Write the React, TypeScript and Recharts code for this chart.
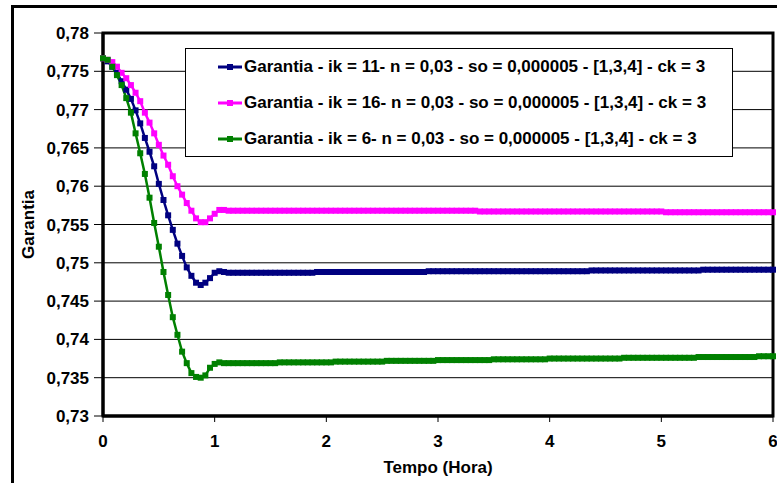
import React from 'react';
import { LineChart, Line, XAxis, YAxis, CartesianGrid, Legend, ReferenceArea } from 'recharts';

// Garantia per series, one sample every 2.5 min (1/24 h) from 0 to 6 h
const garantiaIk11 = [
  0.7767, 0.7763, 0.7756, 0.7748, 0.7737, 0.7726, 0.7714, 0.7699, 0.7682, 0.7663,
  0.7645, 0.7626, 0.7603, 0.7582, 0.7562, 0.7543, 0.7525, 0.7509, 0.7494, 0.7483,
  0.7474, 0.7471, 0.7474, 0.7480, 0.7487, 0.7489,
  0.7488,
  0.7487, 0.7487, 0.7487, 0.7487, 0.7487, 0.7487, 0.7487, 0.7487, 0.7487, 0.7487,
  0.7487, 0.7487, 0.7487, 0.7487, 0.7487, 0.7487, 0.7487, 0.7487, 0.7487,
  0.7488, 0.7488, 0.7488, 0.7488, 0.7488, 0.7488, 0.7488, 0.7488, 0.7488, 0.7488, 0.7488, 0.7488,
  0.7488, 0.7488, 0.7488, 0.7488, 0.7488, 0.7488, 0.7488, 0.7488, 0.7488, 0.7488, 0.7488, 0.7488,
  0.7489, 0.7489, 0.7489, 0.7489, 0.7489, 0.7489, 0.7489, 0.7489, 0.7489, 0.7489, 0.7489, 0.7489,
  0.7489, 0.7489, 0.7489, 0.7489, 0.7489, 0.7489, 0.7489, 0.7489, 0.7489, 0.7489, 0.7489, 0.7489,
  0.7489, 0.7489, 0.7489, 0.7489, 0.7489, 0.7489, 0.7489, 0.7489, 0.7489, 0.7489, 0.7489,
  0.7490, 0.7490, 0.7490, 0.7490, 0.7490, 0.7490, 0.7490, 0.7490, 0.7490, 0.7490, 0.7490, 0.7490,
  0.7490, 0.7490, 0.7490, 0.7490, 0.7490, 0.7490, 0.7490, 0.7490, 0.7490, 0.7490, 0.7490, 0.7490,
  0.7491, 0.7491, 0.7491, 0.7491, 0.7491, 0.7491, 0.7491, 0.7491,
  0.7491, 0.7491, 0.7491, 0.7491, 0.7491, 0.7491, 0.7491, 0.7491,
];

const garantiaIk16 = [
  0.7767, 0.7765, 0.7762, 0.7756, 0.7748, 0.7741, 0.7732, 0.7722, 0.7711, 0.7696,
  0.7683, 0.7669, 0.7654, 0.7640, 0.7628, 0.7613, 0.7600, 0.7589, 0.7578, 0.7568,
  0.7558, 0.7553, 0.7553, 0.7558, 0.7564, 0.7569,
  0.7569,
  0.7568, 0.7568, 0.7568, 0.7568, 0.7568, 0.7568, 0.7568, 0.7568, 0.7568, 0.7568, 0.7568, 0.7568,
  0.7568, 0.7568, 0.7568, 0.7568, 0.7568, 0.7568, 0.7568, 0.7568, 0.7568, 0.7568, 0.7568, 0.7568,
  0.7568, 0.7568, 0.7568, 0.7568, 0.7568, 0.7568, 0.7568, 0.7568, 0.7568, 0.7568, 0.7568, 0.7568,
  0.7568, 0.7568, 0.7568, 0.7568, 0.7568, 0.7568, 0.7568, 0.7568, 0.7568, 0.7568, 0.7568, 0.7568,
  0.7568, 0.7568, 0.7568, 0.7568, 0.7568, 0.7568,
  0.7567, 0.7567, 0.7567, 0.7567, 0.7567, 0.7567, 0.7567, 0.7567, 0.7567, 0.7567, 0.7567, 0.7567,
  0.7567, 0.7567, 0.7567, 0.7567, 0.7567, 0.7567, 0.7567, 0.7567, 0.7567, 0.7567, 0.7567, 0.7567,
  0.7567, 0.7567, 0.7567, 0.7567, 0.7567, 0.7567, 0.7567, 0.7567, 0.7567, 0.7567, 0.7567, 0.7567,
  0.7567, 0.7567, 0.7567, 0.7567,
  0.7566, 0.7566, 0.7566, 0.7566, 0.7566, 0.7566, 0.7566, 0.7566, 0.7566, 0.7566, 0.7566, 0.7566,
  0.7566, 0.7566, 0.7566, 0.7566, 0.7566, 0.7566, 0.7566, 0.7566, 0.7566, 0.7566, 0.7566, 0.7566,
];

const garantiaIk6 = [
  0.7767, 0.7765, 0.7756, 0.7745, 0.7732, 0.7715, 0.7696, 0.7669, 0.7643, 0.7616,
  0.7585, 0.7552, 0.7521, 0.7488, 0.7458, 0.7429, 0.7406, 0.7384, 0.7369, 0.7356,
  0.7351, 0.7350, 0.7353, 0.7363, 0.7368, 0.7370,
  0.7369, 0.7369, 0.7369, 0.7369, 0.7369, 0.7369, 0.7369, 0.7369, 0.7369, 0.7369, 0.7369, 0.7369,
  0.7370, 0.7370, 0.7370, 0.7370, 0.7370, 0.7370, 0.7370, 0.7370, 0.7370, 0.7370, 0.7370, 0.7370,
  0.7371, 0.7371, 0.7371, 0.7371, 0.7371, 0.7371, 0.7371, 0.7371, 0.7371, 0.7371, 0.7371,
  0.7372, 0.7372, 0.7372, 0.7372, 0.7372, 0.7372, 0.7372, 0.7372, 0.7372, 0.7372, 0.7372,
  0.7373, 0.7373, 0.7373, 0.7373, 0.7373, 0.7373, 0.7373, 0.7373, 0.7373, 0.7373, 0.7373, 0.7373,
  0.7374, 0.7374, 0.7374, 0.7374, 0.7374, 0.7374, 0.7374, 0.7374, 0.7374, 0.7374, 0.7374, 0.7374,
  0.7375, 0.7375, 0.7375, 0.7375, 0.7375, 0.7375, 0.7375, 0.7375,
  0.7375, 0.7375, 0.7375, 0.7375, 0.7375, 0.7375, 0.7375, 0.7375,
  0.7376, 0.7376, 0.7376, 0.7376, 0.7376, 0.7376, 0.7376, 0.7376,
  0.7376, 0.7376, 0.7376, 0.7376, 0.7376, 0.7376, 0.7376, 0.7376,
  0.7377, 0.7377, 0.7377, 0.7377, 0.7377, 0.7377, 0.7377,
  0.7377, 0.7377, 0.7377, 0.7377, 0.7377, 0.7377,
  0.7378, 0.7378, 0.7378, 0.7378,
];

const xTicks = [0, 1, 2, 3, 4, 5, 6];
const yTicks = [0.73, 0.735, 0.74, 0.745, 0.75, 0.755, 0.76, 0.765, 0.77, 0.775, 0.78];

const seriesNames = {
  ik11: 'Garantia - ik = 11- n = 0,03 - so = 0,000005 - [1,3,4] - ck = 3',
  ik16: 'Garantia - ik = 16- n = 0,03 - so = 0,000005 - [1,3,4] - ck = 3',
  ik6: 'Garantia - ik = 6- n = 0,03 - so = 0,000005 - [1,3,4] - ck = 3',
};

const colors = { ik11: '#000080', ik16: '#FF00FF', ik6: '#008000' };

const chartData = garantiaIk11.map((v, i) => ({
  t: i / 24,
  ik11: v,
  ik16: garantiaIk16[i],
  ik6: garantiaIk6[i],
}));

const FONT = 'Arial, "Liberation Sans", sans-serif';

const fmtY = (v: number) => v.toFixed(3).replace(/0$/, '').replace('.', ',');

const squareDot = (color: string) => (props: any) => {
  const { cx, cy, index } = props;
  if (cx == null || cy == null) return <g key={`d-${index}`} />;
  return <rect key={`d-${index}`} x={cx - 3} y={cy - 3} width={6} height={6} fill={color} />;
};

const LegendBox = (props: any) => {
  const items = props.payload || [];
  return (
    <div
      style={{
        width: 548,
        height: 109,
        border: '1px solid #000',
        background: '#fff',
        boxSizing: 'border-box',
        fontFamily: FONT,
        fontWeight: 'bold',
        fontSize: 17,
        color: '#000',
      }}
    >
      {items.map((it: any) => (
        <div key={it.value} style={{ display: 'flex', alignItems: 'center', height: 36, whiteSpace: 'nowrap' }}>
          <svg width={24} height={8} style={{ marginLeft: 32, marginRight: 2 }}>
            <line x1={0} y1={4} x2={24} y2={4} stroke={it.color} strokeWidth={3} />
            <rect x={9} y={1} width={6} height={6} fill={it.color} />
          </svg>
          <span>{it.value}</span>
        </div>
      ))}
    </div>
  );
};

const App = () => {
  return (
    <div style={{ position: 'fixed', left: 0, top: 0, width: 777, height: 483, overflow: 'hidden', background: '#fff' }}>
      <div
        style={{
          position: 'absolute',
          left: 11,
          top: 5,
          width: 900,
          height: 600,
          border: '3px solid #000',
          boxSizing: 'border-box',
        }}
      />
      <div style={{ position: 'absolute', left: 0, top: 0 }}>
        <LineChart width={800} height={500} data={chartData} margin={{ top: 33, right: 27, left: 0, bottom: 24 }}>
          <CartesianGrid vertical={false} stroke="#000" strokeWidth={1} />
          <ReferenceArea x1={0} x2={6} y1={0.73} y2={0.78} fill="none" stroke="#000" strokeWidth={3} />
          <XAxis
            dataKey="t"
            type="number"
            domain={[0, 6]}
            ticks={xTicks}
            height={60}
            axisLine={{ stroke: '#000', strokeWidth: 3 }}
            tickLine={{ stroke: '#000' }}
            tickSize={6}
            tickMargin={13}
            tick={{ fill: '#000', fontSize: 17, fontWeight: 'bold', fontFamily: FONT }}
            label={(p: any) => {
              const vb = p.viewBox || {};
              return (
                <text
                  x={vb.x + vb.width / 2}
                  y={vb.y + 57}
                  textAnchor="middle"
                  fill="#000"
                  fontSize={17}
                  fontWeight="bold"
                  fontFamily={FONT}
                >
                  Tempo (Hora)
                </text>
              );
            }}
          />
          <YAxis
            type="number"
            domain={[0.73, 0.78]}
            ticks={yTicks}
            width={103}
            tickFormatter={fmtY}
            axisLine={{ stroke: '#000', strokeWidth: 3 }}
            tickLine={{ stroke: '#000' }}
            tickSize={9}
            tickMargin={5}
            tick={{ fill: '#000', fontSize: 17, fontWeight: 'bold', fontFamily: FONT }}
            label={(p: any) => {
              const vb = p.viewBox || {};
              const cy = vb.y + vb.height / 2;
              return (
                <text
                  x={28}
                  y={cy}
                  transform={`rotate(-90, 28, ${cy})`}
                  textAnchor="middle"
                  dominantBaseline="central"
                  fill="#000"
                  fontSize={17}
                  fontWeight="bold"
                  fontFamily={FONT}
                >
                  Garantia
                </text>
              );
            }}
          />
          <Legend
            layout="vertical"
            align="center"
            verticalAlign="middle"
            content={<LegendBox />}
            wrapperStyle={{ left: 185, top: 48, width: 548, height: 109 }}
          />
          <Line
            type="linear"
            dataKey="ik11"
            name={seriesNames.ik11}
            stroke={colors.ik11}
            strokeWidth={2.5}
            dot={squareDot(colors.ik11)}
            activeDot={false}
            isAnimationActive={false}
          />
          <Line
            type="linear"
            dataKey="ik16"
            name={seriesNames.ik16}
            stroke={colors.ik16}
            strokeWidth={2.5}
            dot={squareDot(colors.ik16)}
            activeDot={false}
            isAnimationActive={false}
          />
          <Line
            type="linear"
            dataKey="ik6"
            name={seriesNames.ik6}
            stroke={colors.ik6}
            strokeWidth={2.5}
            dot={squareDot(colors.ik6)}
            activeDot={false}
            isAnimationActive={false}
          />
        </LineChart>
      </div>
    </div>
  );
};

export default App;
